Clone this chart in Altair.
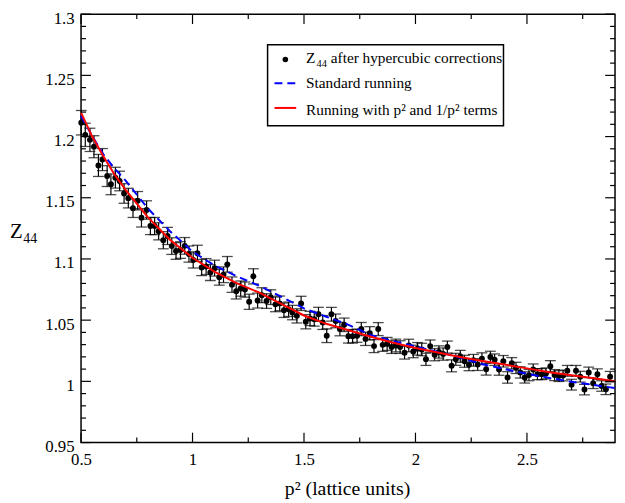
import altair as alt
import pandas as pd

# ---------------- data ----------------
p2 = [0.501, 0.519, 0.540, 0.558, 0.578, 0.596, 0.617, 0.634, 0.654, 0.673,
      0.693, 0.712, 0.733, 0.754, 0.771, 0.794, 0.811, 0.830, 0.848, 0.869,
      0.888, 0.907, 0.926, 0.946, 0.965, 0.984, 1.003, 1.022, 1.041, 1.061,
      1.080, 1.099, 1.120, 1.139, 1.156, 1.177, 1.196, 1.216, 1.235, 1.254,
      1.273, 1.292, 1.311, 1.332, 1.351, 1.372, 1.391, 1.410, 1.431, 1.448,
      1.468, 1.487, 1.508, 1.527, 1.546, 1.565, 1.584, 1.602, 1.623, 1.642,
      1.661, 1.680, 1.699, 1.718, 1.738, 1.757, 1.776, 1.795, 1.814, 1.833,
      1.853, 1.873, 1.893, 1.912, 1.931, 1.951, 1.970, 1.990, 2.009, 2.028,
      2.047, 2.066, 2.086, 2.105, 2.124, 2.143, 2.162, 2.181, 2.201, 2.220,
      2.240, 2.260, 2.279, 2.298, 2.317, 2.336, 2.355, 2.375, 2.394, 2.413,
      2.432, 2.451, 2.470, 2.490, 2.509, 2.528, 2.547, 2.566, 2.585, 2.605,
      2.624, 2.643, 2.662, 2.681, 2.700, 2.720, 2.739, 2.758, 2.777, 2.797,
      2.816, 2.835, 2.854, 2.873]

z44 = [1.2113, 1.2014, 1.1973, 1.1917, 1.1764, 1.1812, 1.1677, 1.1610, 1.1664, 1.1637,
       1.1535, 1.1497, 1.1414, 1.1476, 1.1336, 1.1400, 1.1269, 1.1269, 1.1226, 1.1153,
       1.1188, 1.1105, 1.1065, 1.1073, 1.1107, 1.1040, 1.0992, 1.1046, 1.0930, 1.0938,
       1.0889, 1.0925, 1.0850, 1.0871, 1.0956, 1.0790, 1.0736, 1.0758, 1.0750, 1.0650,
       1.0858, 1.0660, 1.0704, 1.0656, 1.0688, 1.0629, 1.0637, 1.0581, 1.0589, 1.0562,
       1.0535, 1.0637, 1.0487, 1.0514, 1.0508, 1.0548, 1.0481, 1.0373, 1.0548, 1.0494,
       1.0427, 1.0462, 1.0368, 1.0368, 1.0373, 1.0427, 1.0347, 1.0393, 1.0288, 1.0427,
       1.0298, 1.0306, 1.0280, 1.0293, 1.0280, 1.0234, 1.0293, 1.0244, 1.0266, 1.0260,
       1.0180, 1.0288, 1.0218, 1.0240, 1.0223, 1.0280, 1.0127, 1.0180, 1.0204, 1.0164,
       1.0135, 1.0172, 1.0137, 1.0185, 1.0099, 1.0199, 1.0177, 1.0097, 1.0164, 1.0032,
       1.0148, 1.0110, 1.0073, 1.0032, 1.0051, 1.0097, 1.0059, 1.0059, 1.0065, 1.0124,
       1.0051, 1.0043, 1.0048, 1.0086, 0.9973, 1.0086, 1.0038, 0.9933, 1.0073, 0.9984,
       1.0059, 0.9962, 0.9935, 1.0038]

z44_err = [0.0100, 0.0095, 0.0095, 0.0090, 0.0090, 0.0090, 0.0085, 0.0085, 0.0085, 0.0080,
           0.0080, 0.0080, 0.0075, 0.0075, 0.0075, 0.0075, 0.0070, 0.0070, 0.0070, 0.0070,
           0.0070, 0.0068, 0.0068, 0.0068, 0.0068, 0.0066, 0.0066, 0.0066, 0.0066, 0.0065,
           0.0065, 0.0065, 0.0064, 0.0064, 0.0064, 0.0063, 0.0063, 0.0062, 0.0062, 0.0062,
           0.0062, 0.0061, 0.0061, 0.0060, 0.0060, 0.0060, 0.0060, 0.0059, 0.0059, 0.0059,
           0.0058, 0.0058, 0.0058, 0.0058, 0.0057, 0.0057, 0.0057, 0.0056, 0.0056, 0.0056,
           0.0055, 0.0055, 0.0055, 0.0055, 0.0054, 0.0054, 0.0054, 0.0054, 0.0053, 0.0053,
           0.0053, 0.0053, 0.0052, 0.0052, 0.0052, 0.0052, 0.0051, 0.0051, 0.0051, 0.0051,
           0.0050, 0.0050, 0.0050, 0.0050, 0.0050, 0.0049, 0.0049, 0.0049, 0.0049, 0.0049,
           0.0048, 0.0048, 0.0048, 0.0048, 0.0048, 0.0047, 0.0047, 0.0047, 0.0047, 0.0047,
           0.0046, 0.0046, 0.0046, 0.0046, 0.0046, 0.0045, 0.0045, 0.0045, 0.0045, 0.0045,
           0.0045, 0.0044, 0.0044, 0.0044, 0.0044, 0.0044, 0.0044, 0.0043, 0.0043, 0.0043,
           0.0043, 0.0043, 0.0043, 0.0043]

curve_p2 = [0.5, 0.55, 0.6, 0.65, 0.7, 0.8, 0.9, 1.0, 1.1, 1.2, 1.3, 1.4, 1.5, 1.6,
            1.7, 1.8, 1.9, 2.0, 2.1, 2.2, 2.3, 2.4, 2.5, 2.6, 2.7, 2.8, 2.895]
standard_running = [1.2170, 1.2005, 1.1855, 1.1740, 1.1640, 1.1412, 1.1225, 1.1060,
                    1.0945, 1.0858, 1.0780, 1.0690, 1.0596, 1.0528, 1.0462, 1.0378,
                    1.0330, 1.0285, 1.0240, 1.0195, 1.0140, 1.0100, 1.0062, 1.0028,
                    0.9997, 0.9970, 0.9945]
running_p2_terms = [1.2196, 1.2000, 1.1840, 1.1690, 1.1565, 1.1340, 1.1155, 1.1010,
                    1.0895, 1.0800, 1.0725, 1.0630, 1.0538, 1.0470, 1.0418, 1.0364,
                    1.0316, 1.0273, 1.0236, 1.0199, 1.0166, 1.0137, 1.0106, 1.0075,
                    1.0050, 1.0025, 1.0000]

x_major = [0.5, 1.0, 1.5, 2.0, 2.5]
x_minor = [0.75, 1.25, 1.75, 2.25, 2.75]
y_major = [0.95, 1.0, 1.05, 1.1, 1.15, 1.2, 1.25, 1.3]
y_minor = [0.96, 0.97, 0.98, 0.99, 1.01, 1.02, 1.03, 1.04, 1.06, 1.07, 1.08, 1.09,
           1.11, 1.12, 1.13, 1.14, 1.16, 1.17, 1.18, 1.19, 1.21, 1.22, 1.23, 1.24,
           1.26, 1.27, 1.28, 1.29]

legend_labels = ["Z", "44", "after hypercubic corrections", "Standard running",
                 "Running with p\u00b2 and 1/p\u00b2 terms"]
x_title = "p\u00b2  (lattice units)"
y_title = ["Z", "44"]

# ---------------- chart ----------------
W, H = 541, 434
FONT = "Liberation Serif"
xs = alt.Scale(domain=[0.5, 2.895], nice=False, zero=False)
ys = alt.Scale(domain=[0.95, 1.3], nice=False, zero=False)

axis_x = alt.Axis(values=x_major, format=".2~f", title=None, ticks=False, domain=False,
                  grid=False, labelFont=FONT, labelFontSize=17, labelColor="black",
                  labelPadding=9, labelFlush=False)
axis_y = alt.Axis(values=y_major, format=".2~f", title=None, ticks=False, domain=False,
                  grid=False, labelFont=FONT, labelFontSize=17, labelColor="black",
                  labelPadding=7, labelOffset=4, labelFlush=False)


def X(field):
    return alt.X(field, type="quantitative", scale=xs, axis=axis_x)


def Y(field):
    return alt.Y(field, type="quantitative", scale=ys, axis=axis_y)


pts = pd.DataFrame({
    "p2": p2,
    "z": z44,
    "lo": [z - e for z, e in zip(z44, z44_err)],
    "hi": [z + e for z, e in zip(z44, z44_err)],
})
curves = pd.DataFrame({"p2": curve_p2, "std": standard_running, "run": running_p2_terms})

base = alt.Chart(pts)
err = base.mark_rule(color="black", strokeWidth=1.2).encode(x=X("p2"), y=Y("lo"), y2="hi:Q")
cap_lo = base.mark_tick(orient="horizontal", color="black", size=11, thickness=1.3).encode(
    x=X("p2"), y=Y("lo"))
cap_hi = base.mark_tick(orient="horizontal", color="black", size=11, thickness=1.3).encode(
    x=X("p2"), y=Y("hi"))
dots = base.mark_circle(color="black", size=36, opacity=1).encode(x=X("p2"), y=Y("z"))

cbase = alt.Chart(curves)
blue = cbase.mark_line(color="#0000ff", strokeWidth=2, strokeDash=[8, 5]).encode(
    x=X("p2"), y=Y("std"))
red = cbase.mark_line(color="#ff0000", strokeWidth=2).encode(x=X("p2"), y=Y("run"))


def yticks(vals, length):
    d = alt.Chart(pd.DataFrame({"v": vals}))
    left = d.mark_rule(color="black", strokeWidth=1.2).encode(
        y=Y("v"), x=alt.value(0), x2=alt.value(length))
    right = d.mark_rule(color="black", strokeWidth=1.2).encode(
        y=Y("v"), x=alt.value(W - length), x2=alt.value(W))
    return [left, right]


def xticks(vals, length):
    d = alt.Chart(pd.DataFrame({"v": vals}))
    bottom = d.mark_rule(color="black", strokeWidth=1.2).encode(
        x=X("v"), y=alt.value(H - length), y2=alt.value(H))
    top = d.mark_rule(color="black", strokeWidth=1.2).encode(
        x=X("v"), y=alt.value(0), y2=alt.value(length))
    return [bottom, top]


def text(t, x, y, size, align="left"):
    return alt.Chart(pd.DataFrame({"t": [t]})).mark_text(
        font=FONT, fontSize=size, color="black", align=align, baseline="middle"
    ).encode(x=alt.value(x), y=alt.value(y), text="t:N")


one = alt.Chart(pd.DataFrame({"k": [0]}))
legend_box = one.mark_rect(fill="white", stroke="black", strokeWidth=1.5).encode(
    x=alt.value(189), x2=alt.value(428), y=alt.value(31), y2=alt.value(113))
legend_dot = one.mark_circle(color="black", size=32, opacity=1).encode(
    x=alt.value(207), y=alt.value(46))
legend_blue = one.mark_rule(color="#0000ff", strokeWidth=2, strokeDash=[8, 5]).encode(
    x=alt.value(196), x2=alt.value(218), y=alt.value(70))
legend_red = one.mark_rule(color="#ff0000", strokeWidth=2).encode(
    x=alt.value(196), x2=alt.value(218), y=alt.value(95))

layers = [err, cap_lo, cap_hi, dots, blue, red]
layers += yticks(y_major, 10) + yticks(y_minor, 5) + xticks(x_major, 10) + xticks(x_minor, 5)
layers += [legend_box, legend_dot, legend_blue, legend_red,
           text(legend_labels[0], 228, 44, 15.5),
           text(legend_labels[1], 238.5, 50.5, 10.5),
           text(legend_labels[2], 253, 44, 15.5),
           text(legend_labels[3], 228, 70, 15.5),
           text(legend_labels[4], 228, 97, 15.5),
           text(x_title, 270, 481, 20, align="center"),
           text(y_title[0], -72, 221, 21),
           text(y_title[1], -58.5, 228, 14)]

chart = alt.layer(*layers).properties(
    width=W, height=H,
    autosize=alt.AutoSizeParams(type="none"),
    padding={"left": 74, "top": 3, "right": 2, "bottom": 58},
    background="white",
).configure_view(stroke="black", strokeWidth=1.5)

chart.save("out.html", embed_options={"renderer": "svg", "actions": False})
